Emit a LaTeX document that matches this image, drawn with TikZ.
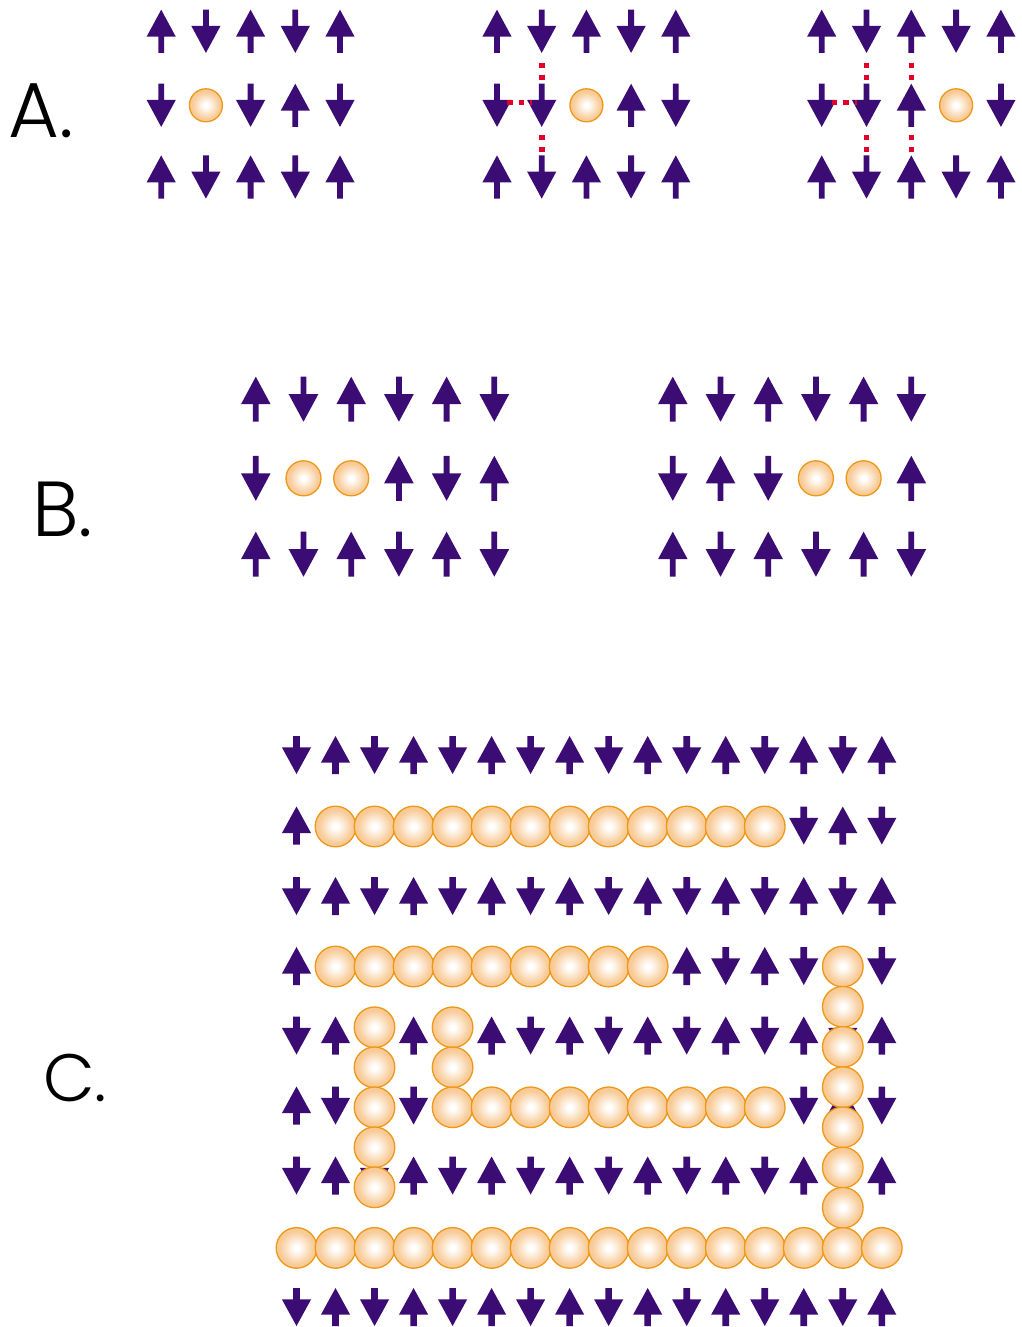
\documentclass[tikz,border=0pt]{standalone}
\usepackage{fontspec}
\setmainfont{Poppins}
\newfontfamily\labfont{Poppins Light}
\definecolor{spin}{RGB}{60,12,117}
\definecolor{bfill}{RGB}{244,172,90}
\definecolor{bline}{RGB}{238,152,24}
\definecolor{bondred}{RGB}{226,0,40}
\pgfdeclareradialshading{ballshade}{\pgfpoint{0bp}{0bp}}{color(0bp)=(white); color(3bp)=(white); color(20bp)=(bfill!60!white); color(50bp)=(bfill)}
\tikzset{
  ball/.style={shading=ballshade, draw=bline, line width=1.3pt},
  bond/.style={draw=bondred, line width=5.3pt},
  lab/.style={inner sep=0pt, text=black, anchor=base west},
}
% prefix, half height, head height, head half width, stem half width, ball radius
\newcommand\defspins[6]{%
  \tikzset{
    #1 U/.pic={\fill[spin] (0,-#2) -- (#4,{-#2+#3}) -- (#5,{-#2+#3}) -- (#5,#2) -- (-#5,#2) -- (-#5,{-#2+#3}) -- (-#4,{-#2+#3}) -- cycle;},
    #1 D/.pic={\fill[spin] (0,#2) -- (#4,{#2-#3}) -- (#5,{#2-#3}) -- (#5,-#2) -- (-#5,-#2) -- (-#5,{#2-#3}) -- (-#4,{#2-#3}) -- cycle;},
    #1 O/.pic={\path[ball] (0,0) circle (#6);},
  }}
\defspins{a}{21.6}{27}{14.6}{2.9}{16.5}
\defspins{b}{22.5}{27.5}{14.8}{2.9}{17.5}
\defspins{c}{19}{26.7}{14.6}{3.3}{20.3}
% prefix, y, x0, dx, list
\newcommand\spinrow[5]{%
  \foreach \s [count=\i from 0] in {#5}{%
    \if\s U\pic at ({#3+\i*#4},#2) {#1 U};\fi
    \if\s D\pic at ({#3+\i*#4},#2) {#1 D};\fi
    \if\s O\pic at ({#3+\i*#4},#2) {#1 O};\fi
  }}
\begin{document}
\begin{tikzpicture}[x=1pt,y=-1pt]
\useasboundingbox[fill=white] (0,0) rectangle (1021,1327);

% ---------- labels ----------
\node[lab, font=\labfont\fontsize{78}{80}\selectfont] (labA) at (8,137.5) {A.};
\node[lab, font=\labfont\fontsize{78}{80}\selectfont] (labB) at (32,536) {B.};
\node[lab, font=\labfont\fontsize{67}{70}\selectfont] (labC) at (43,1101) {C.};

% ---------- panel A ----------
\spinrow{a}{31.3}{161.2}{44.7}{U,D,U,D,U}
\spinrow{a}{105.3}{161.2}{44.7}{D,O,D,U,D}
\spinrow{a}{177}{161.2}{44.7}{U,D,U,D,U}

\spinrow{a}{31.3}{497}{44.7}{U,D,U,D,U}
\spinrow{a}{105.3}{497}{44.7}{D,D,O,U,D}
\spinrow{a}{177}{497}{44.7}{U,D,U,D,U}

\spinrow{a}{31.3}{821.7}{44.8}{U,D,U,D,U}
\spinrow{a}{105.3}{821.7}{44.8}{D,D,U,O,D}
\spinrow{a}{177}{821.7}{44.8}{U,D,U,D,U}

% bonds (group 2)
\coordinate (g2m1) at (497,102.7);
\coordinate (g2m2) at (541.7,102.7);
\coordinate (g2t2) at (541.9,31.3);
\coordinate (g2c2) at (541.9,105.3);
\coordinate (g2b2) at (541.9,177);
\draw[bond, dash pattern=on 5.3pt off 6.1pt, shorten <=10.3pt, shorten >=10pt] (g2m1) -- (g2m2);
\draw[bond, dash pattern=on 5.3pt off 6.7pt, shorten <=31.4pt, shorten >=25.3pt] (g2t2) -- (g2c2);
\draw[bond, dash pattern=on 5.3pt off 6.7pt, shorten <=29.7pt, shorten >=24.3pt] (g2c2) -- (g2b2);

% bonds (group 3)
\coordinate (g3m1) at (821.7,102.7);
\coordinate (g3m2) at (866.5,102.7);
\coordinate (g3t2) at (866.6,31.3);
\coordinate (g3c2) at (866.6,105.3);
\coordinate (g3b2) at (866.6,177);
\coordinate (g3t3) at (911.6,31.3);
\coordinate (g3c3) at (911.6,105.3);
\coordinate (g3b3) at (911.6,177);
\draw[bond, dash pattern=on 5.3pt off 6.3pt, shorten <=10pt, shorten >=9.8pt] (g3m1) -- (g3m2);
\draw[bond, dash pattern=on 5.3pt off 6.7pt, shorten <=31.4pt, shorten >=25.3pt] (g3t2) -- (g3c2);
\draw[bond, dash pattern=on 5.3pt off 6.7pt, shorten <=29.7pt, shorten >=24.3pt] (g3c2) -- (g3b2);
\draw[bond, dash pattern=on 5.3pt off 6.7pt, shorten <=31.4pt, shorten >=25.3pt] (g3t3) -- (g3c3);
\draw[bond, dash pattern=on 5.3pt off 6.7pt, shorten <=29.7pt, shorten >=24.3pt] (g3c3) -- (g3b3);

% ---------- panel B ----------
\spinrow{b}{399.2}{255.8}{47.7}{U,D,U,D,U,D}
\spinrow{b}{478.3}{255.8}{47.7}{D,O,O,U,D,U}
\spinrow{b}{554.2}{255.8}{47.7}{U,D,U,D,U,D}

\spinrow{b}{399.2}{672.8}{47.7}{U,D,U,D,U,D}
\spinrow{b}{478.3}{672.8}{47.7}{D,U,D,O,O,U}
\spinrow{b}{554.2}{672.8}{47.7}{U,D,U,D,U,D}

% ---------- panel C : spins ----------
\spinrow{c}{755}{296.5}{39.02}{D,U,D,U,D,U,D,U,D,U,D,U,D,U,D,U}
\spinrow{c}{825.5}{296.5}{39.02}{U,X,X,X,X,X,X,X,X,X,X,X,X,D,U,D}
\spinrow{c}{896}{296.5}{39.02}{D,U,D,U,D,U,D,U,D,U,D,U,D,U,D,U}
\spinrow{c}{966}{296.5}{39.02}{U,D,X,X,X,X,X,X,X,X,U,D,U,D,X,D}
\spinrow{c}{1035.5}{296.5}{39.02}{D,U,D,U,D,U,D,U,D,U,D,U,D,U,D,U}
\spinrow{c}{1105.5}{296.5}{39.02}{U,D,X,D,X,X,X,X,X,X,X,X,X,D,U,D}
\spinrow{c}{1175.5}{296.5}{39.02}{D,U,D,U,D,U,D,U,D,U,D,U,D,U,D,U}
\spinrow{c}{1307}{296.5}{39.02}{D,U,D,U,D,U,D,U,D,U,D,U,D,U,D,U}

% ---------- panel C : holes ----------
\foreach \c in {2,...,13} \pic at ({296.5+(\c-1)*39.02},826.5) {c O};
\foreach \c in {2,...,10} \pic at ({296.5+(\c-1)*39.02},966.5) {c O};
\foreach \k in {0,...,6} \pic at (842.8,{966.5+\k*40.2}) {c O};
\foreach \k in {0,...,4} \pic at (374.5,{1027.3+\k*40}) {c O};
\foreach \k in {0,...,2} \pic at (452.6,{1027.3+\k*40}) {c O};
\foreach \c in {6,...,13} \pic at ({296.5+(\c-1)*39.02},1107.3) {c O};
\foreach \c in {1,...,16} \pic at ({296.5+(\c-1)*39.02},1247.9) {c O};
\end{tikzpicture}
\end{document}
